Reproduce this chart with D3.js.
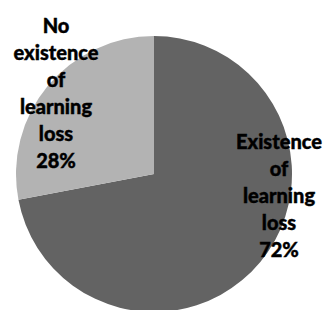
<!DOCTYPE html>
<html>
<head>
<meta charset="utf-8">
<script src="https://cdn.jsdelivr.net/npm/d3@7"></script>
<style>
  body { margin: 0; background: #fff; }
  text { font-family: Lato, "Open Sans", sans-serif; font-weight: 900; fill: #000; stroke: #000; stroke-width: 0.4px; }
</style>
</head>
<body>
<script>
const width = 325;
const height = 310;

// data
const categories = ['Existence of learning loss', 'No existence of learning loss'];
const values = [72, 28];
const labelLines = [
  ['Existence', 'of', 'learning', 'loss'],
  ['No', 'existence', 'of', 'learning', 'loss']
];
const colors = ['#636363', '#b3b3b3'];

const cx = 154, cy = 174, radius = 138;
const lineH = 27;
// label block centres (x, first baseline)
const labelPos = [[279, 149], [56, 33]];

const svg = d3.select('body')
  .append('svg')
  .attr('width', width)
  .attr('height', height);

const pie = d3.pie().sort(null).value(d => d);
const arc = d3.arc().innerRadius(0).outerRadius(radius);

const g = svg.append('g').attr('transform', `translate(${cx},${cy})`);

g.selectAll('path')
  .data(pie(values))
  .join('path')
  .attr('d', arc)
  .attr('fill', (d, i) => colors[i]);

const total = d3.sum(values);

labelLines.forEach((lines, i) => {
  const t = svg.append('text')
    .attr('text-anchor', 'middle')
    .style('font-size', '20px');
  lines.concat([Math.round(values[i] / total * 100) + '%']).forEach((s, j) => {
    t.append('tspan')
      .attr('x', labelPos[i][0])
      .attr('y', labelPos[i][1] + j * lineH)
      .text(s);
  });
});
</script>
</body>
</html>
